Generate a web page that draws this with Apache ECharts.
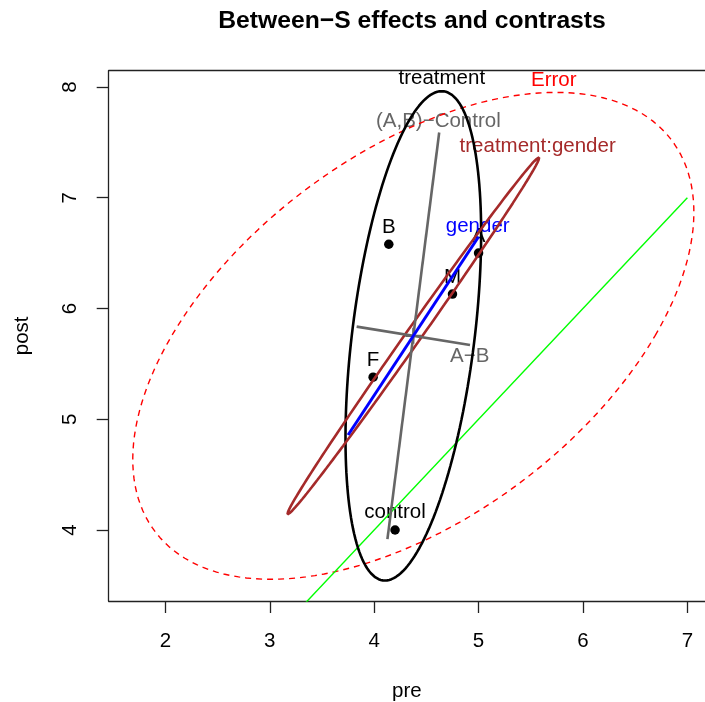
<!DOCTYPE html>
<html>
<head>
<meta charset="utf-8">
<script src="https://cdn.jsdelivr.net/npm/echarts@6/dist/echarts.min.js"></script>
<style>
  html, body { margin: 0; padding: 0; background: #fff; }
  #main { width: 705px; height: 702px; }
</style>
</head>
<body>
<div id="main"></div>
<script>
// group means (pre, post)
var groupNames = ['A', 'B', 'control', 'F', 'M'];
var groupPre = [5.00, 4.14, 4.20, 3.99, 4.75];
var groupPost = [6.50, 6.58, 4.00, 5.38, 6.13];

// grand mean: every ellipse and contrast is centred here
var grandMean = [4.375, 5.753];

// ellipses as two conjugate half-axes (pre, post)
var errorAxisA = [1.365, 2.198];
var errorAxisB = [2.315, 0];
var treatmentAxisA = [0.272, 2.209];
var treatmentAxisB = [0.59, 0];
var interactionAxisA = [1.203, 1.612];
var interactionAxisB = [0.088, 0];
// gender has 1 df: a degenerate ellipse (a line)
var genderHalf = [0.625, 0.895];

// contrast lines (half-lengths from the grand mean)
var abControlHalf = [0.248, 1.836];
var aMinusBHalf = [0.543, -0.083];

// reference line pre = post
var equalLine = [[3, 3], [7, 7]];

// effect labels
var effectNames = ['treatment', 'Error', '(A,B)\u2212Control', 'treatment:gender', 'gender', 'A\u2212B'];
var effectPre = [4.648, 5.72, 4.615, 5.566, 4.992, 4.915];
var effectPost = [8.079, 8.057, 7.687, 7.467, 6.739, 5.571];
var effectColors = ['#000000', '#FF0000', '#666666', '#A52A2A', '#0000FF', '#666666'];

var xTicks = [2, 3, 4, 5, 6, 7];
var yTicks = [4, 5, 6, 7, 8];

var font = '"Liberation Sans", Arial, Helvetica, sans-serif';

function ellipse(c, a, b) {
    var pts = [];
    var n = 180;
    for (var i = 0; i <= n; i++) {
        var t = 2 * Math.PI * i / n;
        pts.push([c[0] + a[0] * Math.cos(t) + b[0] * Math.sin(t),
                  c[1] + a[1] * Math.cos(t) + b[1] * Math.sin(t)]);
    }
    return pts;
}

function segment(c, h) {
    return [[c[0] - h[0], c[1] - h[1]], [c[0] + h[0], c[1] + h[1]]];
}

function lineSeries(name, data, color, width, type) {
    return {
        name: name,
        type: 'line',
        data: data,
        showSymbol: false,
        symbol: 'none',
        smooth: false,
        silent: true,
        lineStyle: { color: color, width: width, type: type || 'solid', opacity: 1 }
    };
}

var boxLine = { show: true, onZero: false, lineStyle: { color: '#222', width: 1.3 } };

var chart = echarts.init(document.getElementById('main'));

var option = {
    animation: false,
    backgroundColor: '#ffffff',
    textStyle: { fontFamily: font },
    title: {
        text: 'Between\u2212S effects and contrasts',
        left: 407,
        top: 4,
        textAlign: 'center',
        textStyle: { fontFamily: font, fontSize: 24.7, fontWeight: 'bold', color: '#000' }
    },
    grid: {
        left: 108.7,
        top: 70.7,
        right: 0,
        height: 530.3,
        show: false,
        containLabel: false,
        outerBoundsMode: 'none'
    },
    xAxis: [{
        type: 'value',
        position: 'bottom',
        min: 1.457,
        max: 7.169,
        name: 'pre',
        nameLocation: 'middle',
        nameGap: 80,
        nameTextStyle: { fontFamily: font, fontSize: 20.5, color: '#000' },
        splitLine: { show: false },
        axisLine: boxLine,
        axisTick: { show: true, inside: false, length: 12, customValues: xTicks,
                    lineStyle: { color: '#222', width: 1.3 } },
        axisLabel: { customValues: xTicks, margin: 30, fontSize: 20.5, color: '#000', fontFamily: font }
    }, {
        type: 'value',
        position: 'top',
        min: 1.457,
        max: 7.169,
        splitLine: { show: false },
        axisLine: boxLine,
        axisTick: { show: false },
        axisLabel: { show: false }
    }],
    yAxis: {
        type: 'value',
        min: 3.359,
        max: 8.147,
        name: 'post',
        nameLocation: 'middle',
        nameGap: 76,
        nameTextStyle: { fontFamily: font, fontSize: 20.5, color: '#000' },
        splitLine: { show: false },
        axisLine: boxLine,
        axisTick: { show: true, inside: false, length: 12, customValues: yTicks,
                    lineStyle: { color: '#222', width: 1.3 } },
        axisLabel: { customValues: yTicks, rotate: 90, margin: 28, fontSize: 20.5, color: '#000', fontFamily: font }
    },
    series: [
        lineSeries('Error', ellipse(grandMean, errorAxisB, errorAxisA), '#FF0000', 1.4, [6, 5]),
        lineSeries('pre=post', equalLine, '#00FF00', 1.4),
        lineSeries('treatment', ellipse(grandMean, treatmentAxisB, treatmentAxisA), '#000000', 2.6),
        lineSeries('treatment:gender', ellipse(grandMean, interactionAxisB, interactionAxisA), '#A52A2A', 2.6),
        lineSeries('(A,B)-Control', segment(grandMean, abControlHalf), '#666666', 2.6),
        lineSeries('A-B', segment(grandMean, aMinusBHalf), '#666666', 2.6),
        lineSeries('gender', segment(grandMean, genderHalf), '#0000FF', 3),
        {
            name: 'grand mean',
            type: 'scatter',
            symbol: 'path://M-1,0L1,0M0,-1L0,1',
            symbolSize: 16,
            silent: true,
            itemStyle: { color: 'none', borderColor: '#666666', borderWidth: 2.2, opacity: 1 },
            data: [grandMean]
        },
        {
            name: 'groups',
            type: 'scatter',
            symbol: 'circle',
            symbolSize: 9.5,
            silent: true,
            itemStyle: { color: '#000', opacity: 1 },
            label: {
                show: true,
                position: 'top',
                distance: 2,
                fontSize: 20.5,
                fontFamily: font,
                color: '#000',
                formatter: function (p) { return groupNames[p.dataIndex]; }
            },
            data: groupPre.map(function (x, i) { return [x, groupPost[i]]; })
        },
        {
            name: 'effect labels',
            type: 'scatter',
            symbolSize: 0,
            silent: true,
            itemStyle: { opacity: 1 },
            label: {
                show: true,
                position: 'inside',
                fontSize: 20.5,
                fontFamily: font,
                formatter: function (p) { return effectNames[p.dataIndex]; }
            },
            data: effectPre.map(function (x, i) {
                return { value: [x, effectPost[i]], label: { color: effectColors[i] } };
            })
        }
    ]
};

chart.setOption(option);
</script>
</body>
</html>
